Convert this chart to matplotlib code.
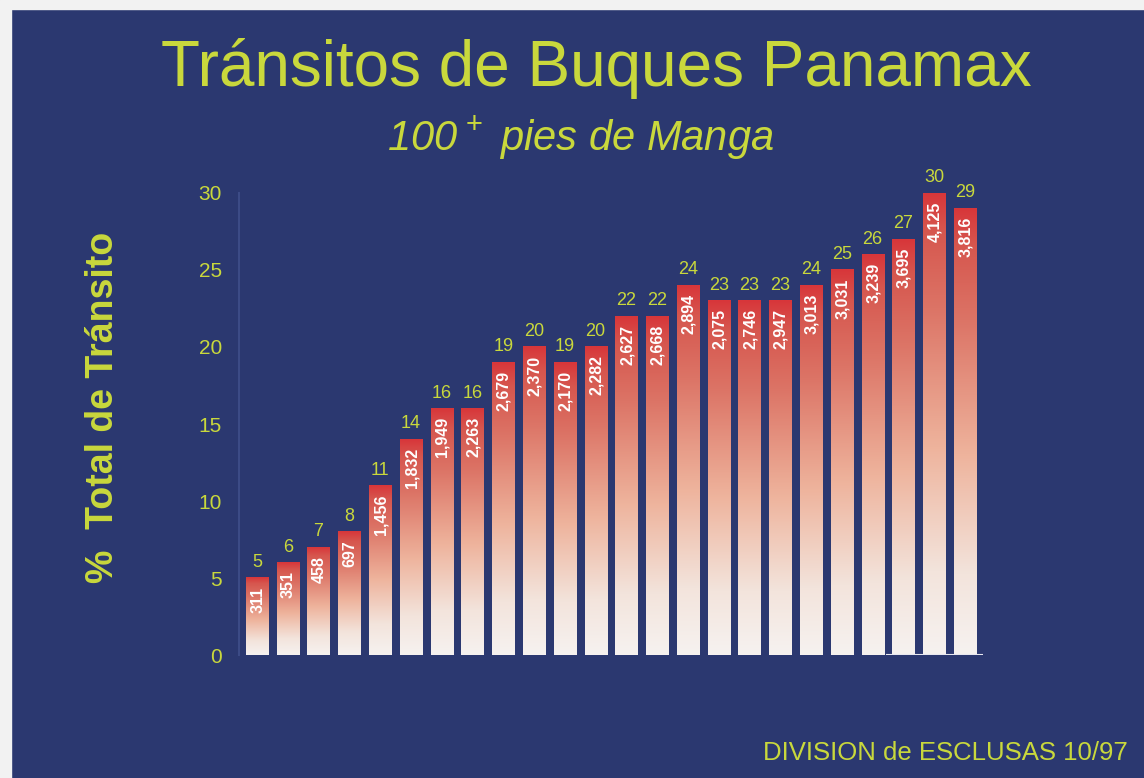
import numpy as np
import matplotlib
matplotlib.use("Agg")
import matplotlib.pyplot as plt
from matplotlib.colors import LinearSegmentedColormap
from matplotlib.patches import Rectangle

plt.rcParams['font.family'] = ['Liberation Sans', 'DejaVu Sans']
plt.rcParams['mathtext.fontset'] = 'custom'
plt.rcParams['mathtext.rm'] = 'Liberation Sans'
plt.rcParams['mathtext.it'] = 'Liberation Sans:italic'

# --- données ---
pourcentages = [5, 6, 7, 8, 11, 14, 16, 16, 19, 20, 19, 20,
                22, 22, 24, 23, 23, 23, 24, 25, 26, 27, 30, 29]
transits = ["311", "351", "458", "697", "1,456", "1,832", "1,949", "2,263",
            "2,679", "2,370", "2,170", "2,282", "2,627", "2,668", "2,894",
            "2,075", "2,746", "2,947", "3,013", "3,031", "3,239", "3,695",
            "4,125", "3,816"]
yticks = [0, 5, 10, 15, 20, 25, 30]

FOND = "#2b3870"
JAUNE = "#c9d83c"

fig = plt.figure(figsize=(11.44, 7.78), dpi=100, facecolor=FOND)

# bordure blanche (scan de la diapo)
fig.patches.append(Rectangle((0, 0.988), 1, 0.012, transform=fig.transFigure,
                             color="#f2f2f2", zorder=0))
fig.patches.append(Rectangle((0, 0), 0.010, 1, transform=fig.transFigure,
                             color="#f2f2f2", zorder=0))

ax = fig.add_axes([0.2085, 0.158, 0.6512, 0.594])
ax.set_facecolor(FOND)

cmap = LinearSegmentedColormap.from_list(
    "barre", [(0.0, "#f6f2f0"), (0.18, "#f3e4dc"), (0.45, "#eeb39c"),
              (0.75, "#dc7466"), (0.92, "#d6564e"), (1.0, "#d8363a")])
grad = np.linspace(0, 1, 256).reshape(-1, 1)

x = np.arange(len(pourcentages))
larg = 0.72
for xi, p, t in zip(x, pourcentages, transits):
    ax.imshow(grad, cmap=cmap, origin="lower", aspect="auto",
              extent=[xi - larg / 2, xi + larg / 2, 0, p], zorder=2)
    ax.text(xi, p + 0.45, str(p), ha="center", va="bottom",
            color=JAUNE, fontsize=13, zorder=3, clip_on=False)
    ax.text(xi + 0.02, p - 0.55, t, ha="center", va="top", rotation=90,
            color="white", fontsize=11.5, fontweight="bold", zorder=3)

ax.set_xlim(-0.6, len(pourcentages) - 0.4)
ax.set_ylim(0, 30)
ax.set_yticks(yticks)
ax.set_yticklabels([str(v) for v in yticks], color=JAUNE, fontsize=15)
ax.set_xticks([])
ax.tick_params(axis="y", length=0, pad=12)
for s in ["top", "right", "bottom"]:
    ax.spines[s].set_visible(False)
ax.spines["left"].set_color("#3c4b86")
ax.spines["left"].set_linewidth(1.5)
ax.axhline(0, xmin=0.87, xmax=1.0, color="#e8e8f0", lw=1.5, zorder=4)

ax.set_ylabel("%  Total de Tránsito", color=JAUNE, fontsize=27,
              fontweight="bold")
ax.yaxis.set_label_coords(-0.158, 0.535)

fig.text(0.521, 0.912, "Tránsitos de Buques Panamax", ha="center", va="center",
         color=JAUNE, fontsize=46)
fig.text(0.507, 0.823, r"100$^{\,+}$ pies de Manga", ha="center", va="center",
         color=JAUNE, fontsize=30, style="italic")
fig.text(0.986, 0.032, "DIVISION de ESCLUSAS 10/97", ha="right", va="center",
         color=JAUNE, fontsize=18.5)

fig.savefig("out.png", dpi=100, facecolor=FOND)
